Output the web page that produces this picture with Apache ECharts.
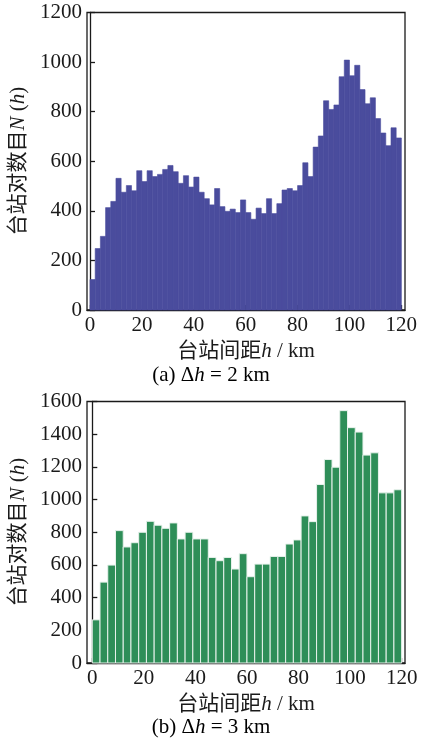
<!DOCTYPE html>
<html>
<head>
<meta charset="utf-8">
<script src="https://cdn.jsdelivr.net/npm/echarts@6/dist/echarts.min.js"></script>
<style>html,body{margin:0;padding:0;background:#fff;}#c{width:422px;height:740px;}</style>
</head>
<body>
<div id="c"></div>
<script>
// ---- data ----
const binWidthA = 2; // km
const countsA = [123, 248, 297, 413, 438, 531, 475, 502, 481, 562,
                 518, 562, 538, 547, 567, 583, 558, 511, 542, 496,
                 536, 475, 449, 424, 490, 417, 398, 407, 393, 444,
                 393, 366, 411, 389, 449, 389, 429, 484, 490, 481,
                 502, 594, 538, 657, 702, 844, 809, 827, 941, 1008,
                 945, 987, 889, 832, 856, 772, 714, 663, 735, 694];
const binWidthB = 3; // km
const countsB = [264, 495, 599, 810, 710, 736, 800, 867, 843, 824,
                 857, 759, 800, 759, 759, 646, 626, 646, 575, 669,
                 528, 605, 605, 652, 652, 728, 753, 900, 865, 1092,
                 1245, 1198, 1544, 1440, 1413, 1272, 1286, 1041, 1041, 1060];
const xTicks = [0, 20, 40, 60, 80, 100, 120];
const yTicksA = [0, 200, 400, 600, 800, 1000, 1200];
const yTicksB = [0, 200, 400, 600, 800, 1000, 1200, 1400, 1600];
const xName = ['台站间距', 'h', ' / km'];
const yName = ['台站对数目', 'N', ' (', 'h', ')'];
const captionA = ['(a) Δ', 'h', ' = 2 km'];
const captionB = ['(b) Δ', 'h', ' = 3 km'];

const FONT = "'Liberation Serif', 'Noto Sans CJK SC', serif";
const colorA = '#4a4c9d';
const colorB = '#2e8e58';
const ink = '#1a1a1a';

const rich = {
  c: {fontFamily: FONT, fontSize: 21, color: ink},
  i: {fontFamily: FONT, fontSize: 21, color: ink, fontStyle: 'italic'}
};
const xNameText = '{c|' + xName[0] + '}{i|' + xName[1] + '}{c|' + xName[2] + '}';
const yNameText = '{c|' + yName[0] + '}{i|' + yName[1] + '}{c|' + yName[2] + '}{i|' + yName[3] + '}{c|' + yName[4] + '}';
function capText(c){ return '{c|' + c[0] + '}{i|' + c[1] + '}{c|' + c[2] + '}'; }

function makeRender(binW, color, stroke, lw){
  return function(params, api){
    const s = api.value(0), v = api.value(1);
    const p0 = api.coord([s, v]);
    const p1 = api.coord([s + binW, 0]);
    return {type: 'rect', shape: {x: p0[0], y: p0[1], width: p1[0] - p0[0], height: p1[1] - p0[1]},
      style: {fill: color, stroke: stroke, lineWidth: lw}};
  };
}

function xAxisCfg(grid, min, max){
  return {
    type: 'value', gridIndex: grid, min: min, max: max,
    name: xNameText, nameLocation: 'middle', nameGap: 31,
    nameTextStyle: {rich: rich},
    axisLine: {show: true, lineStyle: {color: ink, width: 1.3}},
    axisTick: {show: true, inside: true, length: 5, customValues: xTicks, lineStyle: {color: ink, width: 1.3}},
    axisLabel: {customValues: xTicks, fontFamily: FONT, fontSize: 21, color: ink, margin: 5,
      formatter: v => String(v)},
    splitLine: {show: false}
  };
}
function yAxisCfg(grid, max, ticks){
  return {
    type: 'value', gridIndex: grid, min: 0, max: max, interval: 200,
    name: yNameText, nameLocation: 'middle', nameGap: 55, nameRotate: 90,
    nameTextStyle: {rich: rich},
    axisLine: {show: true, lineStyle: {color: ink, width: 1.3}},
    axisTick: {show: true, inside: true, length: 5, customValues: ticks, lineStyle: {color: ink, width: 1.3}},
    axisLabel: {customValues: ticks, fontFamily: FONT, fontSize: 21, color: ink, margin: 5,
      formatter: v => String(v)},
    splitLine: {show: false}
  };
}

const chart = echarts.init(document.getElementById('c'), null, {renderer: 'canvas'});
chart.setOption({
  animation: false,
  backgroundColor: '#ffffff',
  grid: [
    {left: 87, right: 17, top: 12.5, bottom: 430, show: true, borderColor: ink, borderWidth: 1.3, backgroundColor: 'transparent'},
    {left: 87, right: 17, top: 401.5, bottom: 77, show: true, borderColor: ink, borderWidth: 1.3, backgroundColor: 'transparent'}
  ],
  xAxis: [xAxisCfg(0, -1.16, 121.4), xAxisCfg(1, -2.05, 121.3)],
  yAxis: [yAxisCfg(0, 1200, yTicksA), yAxisCfg(1, 1600, yTicksB)],
  series: [
    {type: 'custom', xAxisIndex: 0, yAxisIndex: 0, renderItem: makeRender(binWidthA, colorA, colorA, 0.6),
     encode: {x: 0, y: 1}, data: countsA.map((v, i) => [i * binWidthA, v])},
    {type: 'custom', xAxisIndex: 1, yAxisIndex: 1, renderItem: makeRender(binWidthB, colorB, '#e8f2ec', 1),
     encode: {x: 0, y: 1}, data: countsB.map((v, i) => [i * binWidthB, v])}
  ],
  graphic: [
    {type: 'text', left: 'center', top: 365, style: {text: capText(captionA), rich: rich}},
    {type: 'text', left: 'center', top: 717, style: {text: capText(captionB), rich: rich}}
  ]
});
</script>
</body>
</html>
